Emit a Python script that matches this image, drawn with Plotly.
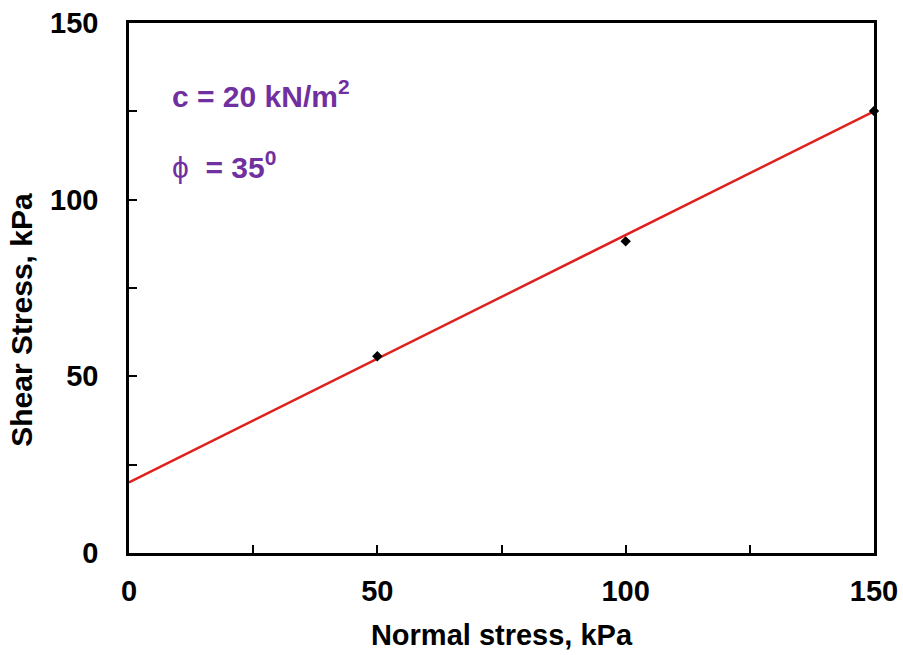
import plotly.graph_objects as go

# Direct shear test results
normal_stress = [50, 100, 150]        # kPa
shear_stress = [55.7, 88.2, 125.1]    # kPa

# Mohr-Coulomb failure envelope: tau = c + sigma * tan(phi)
cohesion = 20.0                        # kN/m2
envelope_sigma = [0, 150]
envelope_tau = [20.0, 125.0]

x_ticks = [0, 50, 100, 150]
y_ticks = [0, 50, 100, 150]

font_family = "Liberation Sans, Arial, sans-serif"
purple = "#7030A0"
label_size = 29

fig = go.Figure()

fig.add_trace(go.Scatter(
    x=envelope_sigma, y=envelope_tau, mode="lines",
    line=dict(color="#E0201E", width=2.6),
    hoverinfo="skip", showlegend=False,
))

fig.add_trace(go.Scatter(
    x=normal_stress, y=shear_stress, mode="markers",
    marker=dict(symbol="diamond", size=8, color="black"),
    showlegend=False, cliponaxis=False,
))

axis_common = dict(
    showline=True, mirror=True, linecolor="black", linewidth=2.5,
    showgrid=False, zeroline=False, automargin=False,
    ticks="inside", ticklen=8, tickwidth=2, tickcolor="black",
    minor=dict(dtick=25, ticks="inside", ticklen=8, tickwidth=2, tickcolor="black"),
    tickfont=dict(family=font_family, size=label_size, color="black"),
)

fig.update_xaxes(
    range=[0, 150], tickvals=x_ticks, ticktext=[f"<b>{v}</b>" for v in x_ticks],
    ticklabelstandoff=10,
    title=dict(text="<b>Normal stress, kPa</b>", standoff=20,
               font=dict(family=font_family, size=label_size, color="black")),
    **axis_common,
)
fig.update_yaxes(
    range=[0, 150], tickvals=y_ticks, ticktext=[f"<b>{v}</b>" for v in y_ticks],
    ticklabelstandoff=22,
    **axis_common,
)

# Vertical axis title, set slightly below the middle of the axis
fig.add_annotation(
    x=-0.1436, y=0.44, xref="paper", yref="paper",
    xanchor="center", yanchor="middle", textangle=-90,
    text="<b>Shear Stress, kPa</b>", showarrow=False,
    font=dict(family=font_family, size=30, color="black"),
)

fig.add_annotation(
    x=8.3, y=129.8, xref="x", yref="y", xanchor="left", yanchor="middle",
    text="<b>c = 20 kN/m<sup>2</sup></b>", showarrow=False,
    font=dict(family=font_family, size=30, color=purple),
)
fig.add_annotation(
    x=8.3, y=109.8, xref="x", yref="y", xanchor="left", yanchor="middle",
    text="ϕ  <b>= 35<sup>0</sup></b>", showarrow=False,
    font=dict(family=font_family, size=30, color=purple),
)

fig.update_layout(
    width=903, height=655,
    margin=dict(l=129, r=29, t=23, b=102),
    paper_bgcolor="white", plot_bgcolor="white",
    font=dict(family=font_family, color="black"),
)

fig.write_html("out.html")
